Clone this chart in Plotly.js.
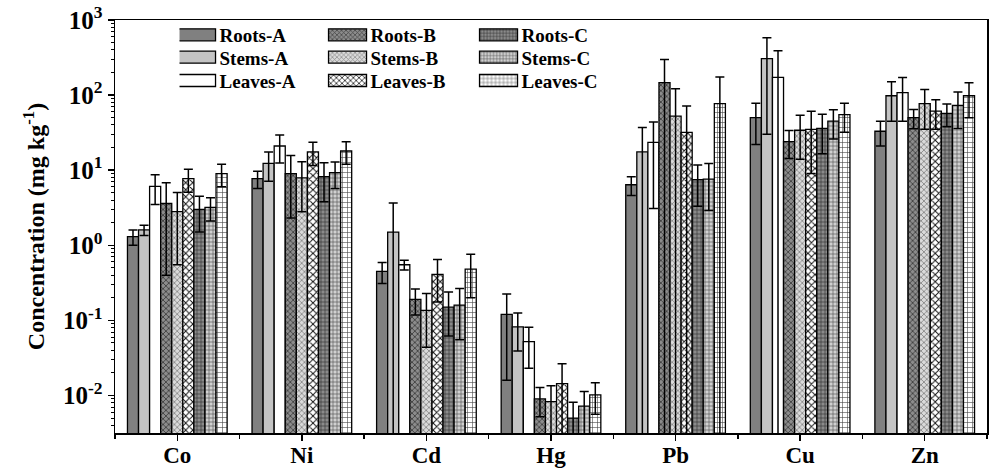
<!DOCTYPE html>
<html>
<head>
<meta charset="utf-8">
<script src="https://cdn.plot.ly/plotly-3.0.1.min.js"></script>
<style>html,body{margin:0;padding:0;background:#fff;}#chart{width:989px;height:469px;}</style>
</head>
<body>
<div id="chart"></div>
<script>
const categories = ['Co','Ni','Cd','Hg','Pb','Cu','Zn'];
const yTickVals = [0.01, 0.1, 1, 10, 100, 1000];
const yTickText = ['10<sup>-2</sup>','10<sup>-1</sup>','10<sup>0</sup>','10<sup>1</sup>','10<sup>2</sup>','10<sup>3</sup>'];

const rootsA      = [1.3, 7.7, 0.45, 0.12, 6.4, 50, 33];
const rootsA_err  = [0.3, 2.0, 0.14, 0.104, 1.8, 28, 12];
const stemsA      = [1.6, 12.3, 1.5, 0.082, 17.5, 305, 98];
const stemsA_err  = [0.25, 5.2, 2.15, 0.043, 19.6, 275, 53];
const leavesA     = [6.1, 21, 0.55, 0.052, 23.4, 172, 108];
const leavesA_err = [2.6, 8.5, 0.08, 0.029, 20.3, 218, 63];
const rootsB      = [3.6, 9.0, 0.19, 0.009, 147, 24, 50];
const rootsB_err  = [3.2, 6.7, 0.072, 0.0038, 150, 9.7, 14.5];
const stemsB      = [2.8, 7.9, 0.136, 0.0083, 52.5, 34, 77];
const stemsB_err  = [2.25, 5.1, 0.092, 0.0052, 69, 20, 42];
const leavesB     = [7.7, 17.5, 0.41, 0.0144, 31.8, 35, 61];
const leavesB_err = [2.6, 6, 0.235, 0.012, 40, 26, 26];
const rootsC      = [3.0, 8.2, 0.15, 0.005, 7.5, 36, 57];
const rootsC_err  = [1.5, 4.4, 0.088, 0.0031, 4.2, 19.5, 19];
const stemsC      = [3.2, 9.3, 0.16, 0.0072, 7.6, 45, 73];
const stemsC_err  = [1.1, 3.6, 0.105, 0.0041, 4.7, 19, 37];
const leavesC     = [9.0, 18, 0.48, 0.0102, 77, 55, 98];
const leavesC_err = [3.0, 6, 0.28, 0.0046, 97, 23, 48];

const xIdx = categories.map((c, i) => i);
const FONT = 'Liberation Serif, Times New Roman, serif';

function mk(name, y, err, legendId, bg, fg, shape, size, solidity) {
  const marker = {color: bg, line: {color: '#000', width: 1.3}};
  if (shape) marker.pattern = {shape: shape, bgcolor: bg, fgcolor: fg, size: size, solidity: solidity, fillmode: 'replace'};
  return {
    type: 'bar', name: name, x: xIdx, y: y, legend: legendId,
    marker: marker,
    error_y: {type: 'data', array: err, visible: true, color: '#000', thickness: 1.5, width: 4.5}
  };
}

const data = [
  mk('Roots-A',  rootsA,  rootsA_err,  'legend',  '#808080'),
  mk('Stems-A',  stemsA,  stemsA_err,  'legend2', '#c4c4c4'),
  mk('Leaves-A', leavesA, leavesA_err, 'legend3', '#ffffff'),
  mk('Roots-B',  rootsB,  rootsB_err,  'legend',  '#8c8c8c', '#404040', 'x', 4, 0.4),
  mk('Stems-B',  stemsB,  stemsB_err,  'legend2', '#dadada', '#8a8a8a', 'x', 4, 0.4),
  mk('Leaves-B', leavesB, leavesB_err, 'legend3', '#ffffff', '#111111', 'x', 5, 0.35),
  mk('Roots-C',  rootsC,  rootsC_err,  'legend',  '#8a8a8a', '#333333', '+', 4, 0.3),
  mk('Stems-C',  stemsC,  stemsC_err,  'legend2', '#d0d0d0', '#555555', '+', 4, 0.3),
  mk('Leaves-C', leavesC, leavesC_err, 'legend3', '#ffffff', '#444444', '+', 5, 0.22)
];

function legendRow(yPos) {
  return {
    orientation: 'h', x: 0.074, xanchor: 'left', y: yPos, yanchor: 'middle',
    entrywidth: 106, entrywidthmode: 'pixels',
    bgcolor: 'rgba(0,0,0,0)', borderwidth: 0,
    font: {family: FONT, size: 19, color: '#000', weight: 'bold'},
    traceorder: 'normal'
  };
}

const layout = {
  width: 989, height: 469,
  margin: {l: 115, r: 2, t: 20, b: 36},
  paper_bgcolor: '#fff', plot_bgcolor: '#fff',
  font: {family: FONT, color: '#000', weight: 'bold'},
  barmode: 'group', bargap: 0.2, bargroupgap: 0,
  showlegend: true,
  legend: legendRow(0.9637),
  legend2: legendRow(0.9096),
  legend3: legendRow(0.8531),
  xaxis: {
    type: 'linear', range: [-0.5, 6.5],
    tickmode: 'array', tickvals: xIdx, ticktext: categories,
    ticks: 'outside', ticklen: 6, tickwidth: 1.5, tickcolor: '#000',
    ticklabelstandoff: -5,
    minor: {tick0: 0.5, dtick: 1, ticks: 'outside', ticklen: 4, tickwidth: 1.5, tickcolor: '#000'},
    showline: true, linecolor: '#000', linewidth: 1.5, mirror: true,
    showgrid: false, zeroline: false,
    tickfont: {family: FONT, size: 23, color: '#000', weight: 'bold'}
  },
  yaxis: {
    type: 'log', range: [-2.5, 3],
    tickmode: 'array', tickvals: yTickVals, ticktext: yTickText,
    ticks: 'outside', ticklen: 6, tickwidth: 1.5, tickcolor: '#000',
    minor: {dtick: 'D1', ticks: 'outside', ticklen: 3, tickwidth: 1, tickcolor: '#000', showgrid: false},
    showline: true, linecolor: '#000', linewidth: 1.5, mirror: true,
    showgrid: false, zeroline: false,
    tickfont: {family: FONT, size: 25, color: '#000', weight: 'bold'},
    title: {text: 'Concentration (mg kg<sup>-1</sup>)', standoff: 11,
            font: {family: FONT, size: 24, color: '#000', weight: 'bold'}}
  }
};

Plotly.newPlot('chart', data, layout, {displayModeBar: false, staticPlot: true}).then(function (gd) {
  gd.querySelectorAll('g.legendpoints path').forEach(function (p) {
    p.setAttribute('d', 'M16,6H-22V-6H16Z');
  });
});
</script>
</body>
</html>
